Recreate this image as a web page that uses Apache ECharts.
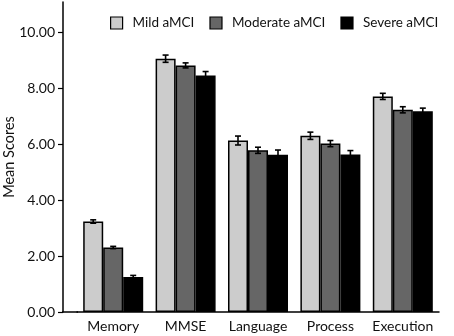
<!DOCTYPE html>
<html>
<head>
<meta charset="utf-8">
<script src="https://cdn.jsdelivr.net/npm/echarts@6/dist/echarts.min.js"></script>
<style>
  html, body { margin: 0; padding: 0; background: #fff; }
  #chart { width: 454px; height: 336px; }
</style>
</head>
<body>
<div id="chart"></div>
<script>
var categories = ['Memory', 'MMSE', 'Language', 'Process', 'Execution'];
var seriesNames = ['Mild aMCI', 'Moderate aMCI', 'Severe aMCI'];
var mildValues = [3.24, 9.07, 6.14, 6.31, 7.72];
var moderateValues = [2.31, 8.83, 5.79, 6.03, 7.24];
var severeValues = [1.25, 8.47, 5.63, 5.64, 7.19];
var mildErrors = [0.06, 0.13, 0.16, 0.13, 0.11];
var moderateErrors = [0.04, 0.09, 0.11, 0.11, 0.11];
var severeErrors = [0.06, 0.14, 0.17, 0.14, 0.11];
var yTicks = [0, 2, 4, 6, 8, 10];

var colors = ['#cccccc', '#666666', '#000000'];
var values = [mildValues, moderateValues, severeValues];
var errors = [mildErrors, moderateErrors, severeErrors];
var font = 'Lato';

var chart = echarts.init(document.getElementById('chart'));

var barWidth = 20;

function errorSeries(idx) {
    var data = values[idx].map(function(v, i) {
        return [i, v, errors[idx][i]];
    });
    return {
        type: 'custom',
        z: 5,
        data: data,
        renderItem: function(params, api) {
            var catIdx = api.value(0);
            var mean = api.value(1);
            var err = api.value(2);
            var top = api.coord([catIdx, mean + err]);
            var bottom = api.coord([catIdx, mean - err]);
            var x = top[0] + (idx - 1) * barWidth;
            var cap = 3;
            var style = { stroke: '#000', lineWidth: 1.6, fill: null };
            return {
                type: 'group',
                children: [
                    { type: 'line', shape: { x1: x, y1: top[1], x2: x, y2: bottom[1] }, style: style },
                    { type: 'line', shape: { x1: x - cap, y1: top[1], x2: x + cap, y2: top[1] }, style: style },
                    { type: 'line', shape: { x1: x - cap, y1: bottom[1], x2: x + cap, y2: bottom[1] }, style: style }
                ]
            };
        }
    };
}

var series = [];
seriesNames.forEach(function(name, idx) {
    series.push({
        name: name,
        type: 'bar',
        data: values[idx],
        barWidth: barWidth,
        barGap: '0%',
        itemStyle: { color: colors[idx], borderColor: '#000', borderWidth: 1.5 }
    });
});
seriesNames.forEach(function(name, idx) {
    series.push(errorSeries(idx));
});

var option = {
    animation: false,
    legend: {
        data: seriesNames,
        top: 11,
        left: 105,
        itemGap: 15,
        itemWidth: 12,
        itemHeight: 12,
        icon: 'rect',
        itemStyle: { borderColor: '#000', borderWidth: 1.2 },
        textStyle: { fontFamily: font, fontSize: 13.5, color: '#111', padding: [0, 0, 0, 5] }
    },
    grid: { left: 77, right: 15, top: 2, bottom: 24, outerBoundsMode: 'none' },
    xAxis: {
        type: 'category',
        data: categories,
        axisLine: { lineStyle: { color: '#000', width: 1.5 } },
        axisTick: { alignWithLabel: true, length: 5, lineStyle: { color: '#000', width: 1.2 } },
        axisLabel: { interval: 0, fontFamily: font, fontSize: 14, color: '#111', margin: 7 }
    },
    yAxis: {
        type: 'value',
        min: 0,
        max: 11.1,
        offset: 14,
        name: 'Mean Scores',
        nameLocation: 'middle',
        nameGap: 46,
        nameMoveOverlap: false,
        nameTextStyle: { fontFamily: font, fontSize: 14.5, color: '#111' },
        splitLine: { show: false },
        axisLine: { show: true, lineStyle: { color: '#000', width: 1.5 } },
        axisTick: { show: true, length: 5, customValues: yTicks, lineStyle: { color: '#000', width: 1.2 } },
        axisLabel: {
            customValues: yTicks,
            fontFamily: font, fontSize: 14, color: '#111', margin: 8,
            formatter: function(v) { return v.toFixed(2); }
        }
    },
    graphic: [{
        type: 'line',
        shape: { x1: 62, y1: 312, x2: 78, y2: 312 },
        style: { stroke: '#000', lineWidth: 1.5 }
    }],
    series: series
};

chart.setOption(option);
</script>
</body>
</html>
